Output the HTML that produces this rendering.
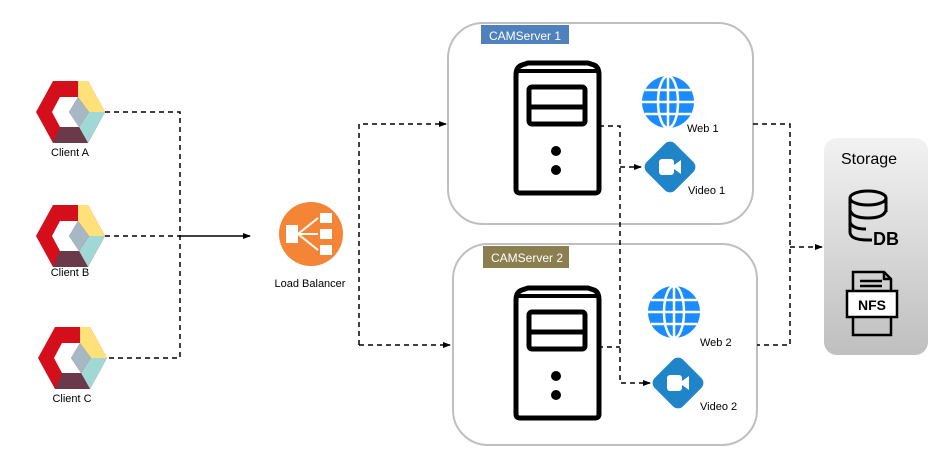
<!DOCTYPE html>
<html><head><meta charset="utf-8"><style>
html,body{margin:0;padding:0;background:#fff;}
svg{display:block;font-family:"Liberation Sans",sans-serif;}
</style></head><body>
<svg width="940" height="457" viewBox="0 0 940 457" xmlns="http://www.w3.org/2000/svg">
<defs>
<g id="hex">
<polygon points="-34,0 -17,-31 18,-31 35,0 18,31 -17,31" fill="#d40e1a"/>
<polygon points="-18,0 -10,-15 8,-15 -1,0 9,15 -10,15" fill="#fff"/>
<polygon points="8,-31 18,-31 35,0 19,0 8,-15" fill="#ffe17a"/>
<polygon points="19,0 35,0 18,31 9,15" fill="#9fd8d4"/>
<polygon points="-1,0 8,-15 19,0 9,15" fill="#a5b8c4"/>
<polygon points="-17,31 18,31 9,15 -10,15" fill="#6b3a4a"/>
</g>
<g id="server">
<path d="M0,12 Q0,4 6,2 L12,0 L72,0 L78,2 Q83,4 83,12 L83,126 Q83,130 79,130 L4,130 Q0,130 0,126 Z" fill="#fff" stroke="#000" stroke-width="5" stroke-linejoin="round"/>
<line x1="2" y1="8" x2="81" y2="8" stroke="#000" stroke-width="4"/>
<rect x="13" y="24" width="56" height="37" rx="3" fill="#fff" stroke="#000" stroke-width="5"/>
<line x1="13" y1="44" x2="69" y2="44" stroke="#000" stroke-width="5"/>
<circle cx="40" cy="88" r="5"/>
<circle cx="40" cy="107" r="5"/>
</g>
<g id="globe">
<circle r="26" fill="#1a8cff"/>
<g stroke="#fff" stroke-width="2.5" fill="none">
<ellipse rx="10" ry="26"/>
<line x1="0" y1="-26" x2="0" y2="26"/>
<line x1="-26" y1="0" x2="26" y2="0"/>
<line x1="-23" y1="-12" x2="23" y2="-12"/>
<line x1="-23" y1="12" x2="23" y2="12"/>
</g>
</g>
<g id="video">
<rect x="-20" y="-20" width="40" height="40" rx="7" fill="#1f85c8" transform="rotate(45)"/>
<rect x="-11" y="-8" width="15" height="16" rx="3" fill="#fff"/>
<polygon points="4,-2 11,-7 11,7 4,2" fill="#fff"/>
</g>
<marker id="ar" markerWidth="8" markerHeight="8" refX="7" refY="4" orient="auto" markerUnits="userSpaceOnUse">
<path d="M0,1 L8,4 L0,7 Z" fill="#000"/>
</marker>
<linearGradient id="sg" x1="0" y1="0" x2="0" y2="1">
<stop offset="0" stop-color="#f2f2f2"/><stop offset="1" stop-color="#bfbfbf"/>
</linearGradient>
</defs>

<!-- server boxes -->
<rect x="448" y="23" width="305" height="201" rx="35" fill="#fff" stroke="#bfbfbf" stroke-width="2"/>
<rect x="481" y="25" width="88" height="19" fill="#4f81bd"/>
<text x="489" y="40" font-size="12" fill="#fff">CAMServer 1</text>
<rect x="453" y="244" width="304" height="201" rx="35" fill="#fff" stroke="#bfbfbf" stroke-width="2"/>
<rect x="483" y="246" width="86" height="22" fill="#8c7f4f"/>
<text x="491" y="262" font-size="12" fill="#fff">CAMServer 2</text>

<!-- connectors -->
<g stroke="#000" stroke-width="1.5" stroke-dasharray="5,4" fill="none">
<polyline points="105,112 180,112 180,358 105,358"/>
<line x1="105" y1="236" x2="180" y2="236"/>
<polyline points="359,345 359,124 446,124" marker-end="url(#ar)"/>
<line x1="359" y1="345" x2="450" y2="345" marker-end="url(#ar)"/>
<polyline points="599,126 620,126 620,383 650,383" marker-end="url(#ar)"/>
<line x1="598" y1="347" x2="620" y2="347"/>
<line x1="620" y1="167" x2="641" y2="167" marker-end="url(#ar)"/>
<polyline points="753,124 790,124 790,345 757,345"/>
<line x1="790" y1="247" x2="822" y2="247" marker-end="url(#ar)"/>
</g>
<line x1="180" y1="236" x2="250" y2="236" stroke="#000" stroke-width="1.5" marker-end="url(#ar)"/>

<!-- clients -->
<use href="#hex" x="70" y="112"/>
<text x="70" y="156" font-size="11" text-anchor="middle">Client A</text>
<use href="#hex" x="70" y="236"/>
<text x="70" y="276" font-size="11" text-anchor="middle">Client B</text>
<use href="#hex" x="72" y="358"/>
<text x="72" y="402" font-size="11" text-anchor="middle">Client C</text>

<!-- load balancer -->
<circle cx="311" cy="234" r="32" fill="#f58536"/>
<g fill="#fff" stroke="#fff">
<rect x="286" y="225" width="12" height="18" stroke="none"/>
<rect x="320" y="213" width="12" height="10" stroke="none"/>
<rect x="320" y="229" width="12" height="10" stroke="none"/>
<rect x="320" y="245" width="12" height="10" stroke="none"/>
<line x1="298" y1="234" x2="318" y2="218" stroke-width="2"/>
<line x1="298" y1="234" x2="318" y2="234" stroke-width="2"/>
<line x1="298" y1="234" x2="318" y2="250" stroke-width="2"/>
</g>
<text x="310" y="287" font-size="11" text-anchor="middle">Load Balancer</text>

<!-- servers -->
<use href="#server" x="516" y="63"/>
<use href="#server" x="516" y="288"/>
<use href="#globe" x="668" y="102"/>
<text x="687" y="132" font-size="11">Web 1</text>
<use href="#video" x="670" y="167"/>
<text x="688" y="194" font-size="11">Video 1</text>
<use href="#globe" x="674" y="312"/>
<text x="700" y="346" font-size="11">Web 2</text>
<use href="#video" x="678" y="383"/>
<text x="700" y="410" font-size="11">Video 2</text>

<!-- storage -->
<rect x="824" y="138" width="104" height="217" rx="13" fill="url(#sg)"/>
<text x="869" y="164" font-size="16" text-anchor="middle">Storage</text>
<g fill="none" stroke="#000" stroke-width="3">
<ellipse cx="868" cy="198" rx="18" ry="7"/>
<path d="M850,198 L850,232 Q850,240 868,240 L872,240"/>
<path d="M886,198 L886,212"/>
<path d="M850,210 Q852,218 868,218 Q884,218 886,210"/>
<path d="M850,222 Q852,229 866,229"/>
</g>
<text x="873" y="245" font-size="18" font-weight="bold">DB</text>
<g fill="none" stroke="#000" stroke-width="2.5">
<path d="M853,290 L853,272 L884,272 L891,279 L891,290"/>
<path d="M884,272 L884,279 L891,279"/>
<line x1="860" y1="281" x2="882" y2="281"/>
<line x1="860" y1="286" x2="882" y2="286"/>
<path d="M853,317 L853,335 L891,335 L891,317"/>
<rect x="847" y="291" width="50" height="26" fill="#fff"/>
</g>
<text x="872" y="310" font-size="14" font-weight="bold" text-anchor="middle">NFS</text>
</svg>
</body></html>
